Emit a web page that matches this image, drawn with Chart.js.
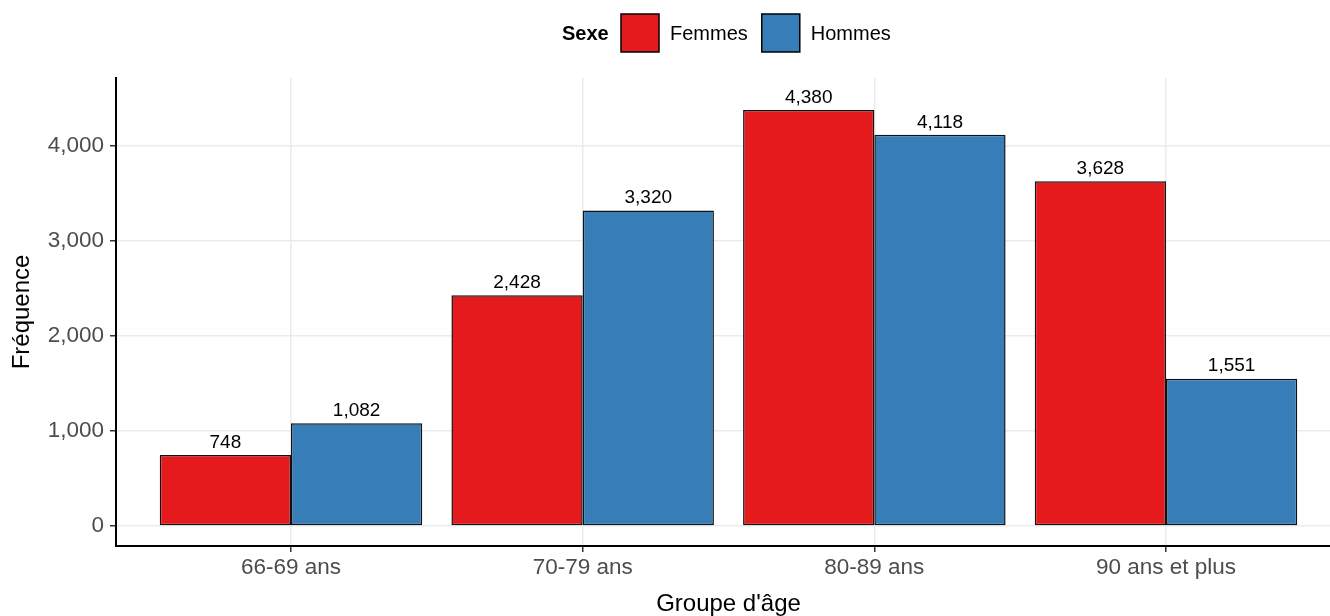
<!DOCTYPE html>
<html>
<head>
<meta charset="utf-8">
<script src="https://cdn.jsdelivr.net/npm/chart.js@4.4.1/dist/chart.umd.min.js"></script>
<style>
  html, body { margin: 0; padding: 0; background: #fff; overflow: hidden; }
  #wrap { width: 1341px; height: 616px; }
</style>
</head>
<body>
<div id="wrap"><canvas id="c" width="1341" height="616"></canvas></div>
<script>
const categories = ['66-69 ans', '70-79 ans', '80-89 ans', '90 ans et plus'];
const femmes = [748, 2428, 4380, 3628];
const hommes = [1082, 3320, 4118, 1551];
const yTicks = [0, 1000, 2000, 3000, 4000];

const FONT = "'Liberation Sans', Arial, Helvetica, sans-serif";
const fmt = v => v.toLocaleString('en-US');

// value labels above each bar
const barLabels = {
  id: 'barLabels',
  afterDatasetsDraw(chart) {
    const ctx = chart.ctx;
    ctx.save();
    ctx.font = `19px ${FONT}`;
    ctx.fillStyle = '#000';
    ctx.textAlign = 'center';
    ctx.textBaseline = 'bottom';
    chart.data.datasets.forEach((ds, i) => {
      chart.getDatasetMeta(i).data.forEach((bar, j) => {
        ctx.fillText(fmt(ds.data[j].y), bar.x, bar.y - 3);
      });
    });
    ctx.restore();
  }
};

// ggplot-like legend: bold title inline with keys
const topLegend = {
  id: 'topLegend',
  afterDraw(chart) {
    const ctx = chart.ctx;
    const cy = 33, box = 38;
    ctx.save();
    ctx.textBaseline = 'middle';
    ctx.textAlign = 'left';
    ctx.font = `bold 20px ${FONT}`;
    ctx.fillStyle = '#000';
    ctx.fillText('Sexe', 562, cy + 1);
    let x = 621;
    ctx.font = `20px ${FONT}`;
    chart.data.datasets.forEach(ds => {
      ctx.fillStyle = ds.backgroundColor;
      ctx.fillRect(x, cy - box / 2, box, box);
      ctx.strokeStyle = '#000';
      ctx.lineWidth = 1.5;
      ctx.strokeRect(x, cy - box / 2, box, box);
      ctx.fillStyle = '#000';
      ctx.fillText(ds.label, x + box + 11, cy + 1);
      x += box + 11 + ctx.measureText(ds.label).width + 14;
    });
    ctx.restore();
  }
};

new Chart(document.getElementById('c'), {
  type: 'bar',
  data: {
    datasets: [
      { label: 'Femmes', data: femmes.map((v, i) => ({ x: i, y: v })), backgroundColor: '#E41A1C', borderColor: '#111', borderWidth: 1.5, borderSkipped: false },
      { label: 'Hommes', data: hommes.map((v, i) => ({ x: i, y: v })), backgroundColor: '#377EB8', borderColor: '#111', borderWidth: 1.5, borderSkipped: false }
    ]
  },
  options: {
    responsive: false,
    animation: false,
    categoryPercentage: 0.9,
    barPercentage: 1.0,
    layout: { padding: { top: 78, right: 0, left: 0, bottom: 0 } },
    plugins: { legend: { display: false }, tooltip: { enabled: false } },
    scales: {
      x: {
        type: 'linear',
        offset: false,
        min: -0.6,
        max: 3.6,
        afterBuildTicks: s => { s.ticks = categories.map((_, i) => ({ value: i })); },
        afterFit: s => { s.height = 70; },
        grid: { offset: false, color: '#EBEBEB', lineWidth: 1.5, tickColor: '#333', tickLength: 6, tickWidth: 1.5 },
        border: { color: '#000', width: 2 },
        ticks: { font: { family: FONT, size: 22.5 }, color: '#4D4D4D', padding: 2, callback: v => categories[v] },
        title: { display: true, text: "Groupe d'âge", font: { family: FONT, size: 24 }, color: '#000', padding: { top: 0, bottom: -3 } }
      },
      y: {
        min: -211,
        max: 4716,
        afterBuildTicks: s => { s.ticks = yTicks.map(v => ({ value: v })); },
        afterFit: s => { s.width = 116; },
        grid: { color: '#EBEBEB', lineWidth: 1.5, tickColor: '#333', tickLength: 6, tickWidth: 1.5 },
        border: { color: '#000', width: 2 },
        ticks: { font: { family: FONT, size: 22.5 }, color: '#4D4D4D', padding: 6, callback: v => fmt(v) },
        title: { display: true, text: 'Fréquence', font: { family: FONT, size: 24 }, color: '#000', padding: { top: 8, bottom: 0 } }
      }
    }
  },
  plugins: [barLabels, topLegend]
});
</script>
</body>
</html>
